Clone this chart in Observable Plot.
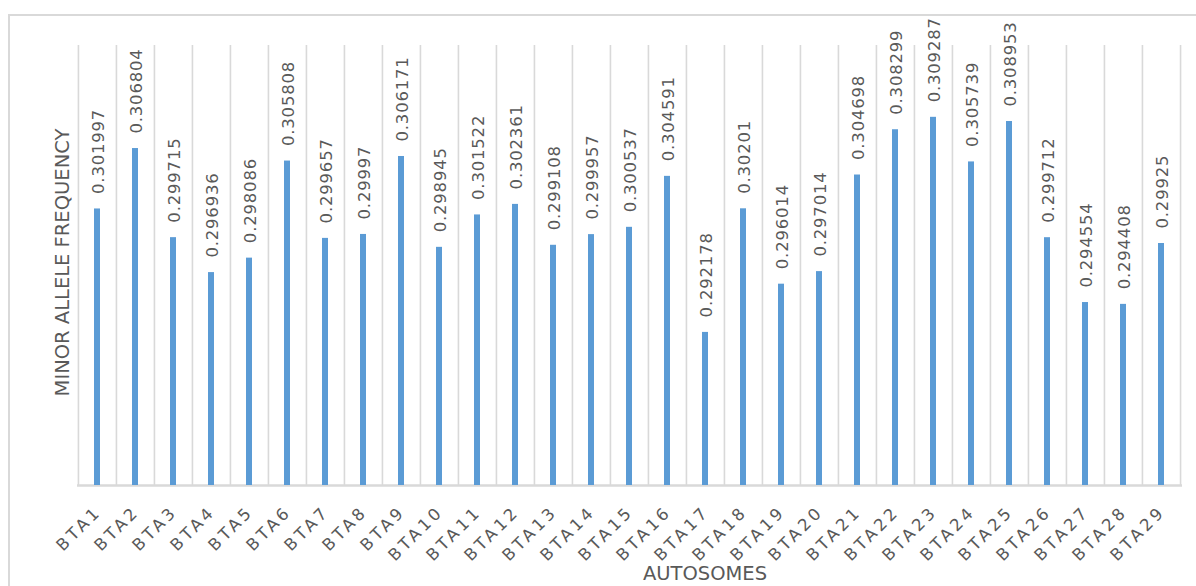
<!DOCTYPE html>
<html>
<head>
<meta charset="utf-8">
<script src="https://cdn.jsdelivr.net/npm/d3@7"></script>
<script src="https://cdn.jsdelivr.net/npm/@observablehq/plot@0.6"></script>
<style>
  html, body { margin: 0; padding: 0; background: #fff; }
  #wrap { position: relative; width: 1196px; height: 586px; overflow: hidden; }
  #frame { position: absolute; left: 8px; top: 14px; width: 1300px; height: 700px;
           border-left: 2px solid #d9d9d9; border-top: 2px solid #d9d9d9; }
  #chart { position: absolute; left: 0; top: 0; }
</style>
</head>
<body>
<div id="wrap"><div id="frame"></div><div id="chart"></div></div>
<script>
const categories = ["BTA1","BTA2","BTA3","BTA4","BTA5","BTA6","BTA7","BTA8","BTA9","BTA10",
  "BTA11","BTA12","BTA13","BTA14","BTA15","BTA16","BTA17","BTA18","BTA19","BTA20",
  "BTA21","BTA22","BTA23","BTA24","BTA25","BTA26","BTA27","BTA28","BTA29"];
const values = [0.301997,0.306804,0.299715,0.296936,0.298086,0.305808,0.299657,0.29997,0.306171,0.298945,
  0.301522,0.302361,0.299108,0.299957,0.300537,0.304591,0.292178,0.30201,0.296014,0.297014,
  0.304698,0.308299,0.309287,0.305739,0.308953,0.299712,0.294554,0.294408,0.29925];
const yDomain = [0.28, 0.315];
const xTitle = "AUTOSOMES";
const yTitle = "MINOR ALLELE FREQUENCY";

const data = categories.map((c, i) => ({cat: c, v: values[i]}));

const W = 1196, H = 586;
const mL = 77, mR = 14, mT = 45, mB = 101;
const step = (W - mL - mR) / categories.length;
const gray = "#595959";
const grid = "#d9d9d9";
const font = "DejaVu Sans";

const chart = Plot.plot({
  width: W, height: H,
  marginLeft: mL, marginRight: mR, marginTop: mT, marginBottom: mB,
  style: {fontFamily: font, background: "transparent", overflow: "visible"},
  x: {type: "band", domain: categories, paddingInner: 0.84, paddingOuter: 0.42, axis: null},
  y: {domain: yDomain, axis: null},
  marks: [
    Plot.ruleX(categories, {x: d => d, dx: -step / 2, stroke: grid, strokeWidth: 1.6}),
    Plot.ruleX([categories[categories.length - 1]], {x: d => d, dx: step / 2, stroke: grid, strokeWidth: 1.6}),
    Plot.ruleY([yDomain[0]], {stroke: grid, strokeWidth: 2.5}),
    Plot.barY(data, {x: "cat", y1: yDomain[0], y2: "v", fill: "#5b9bd5"}),
    Plot.text(data, {x: "cat", y: "v", text: d => String(d.v), rotate: -90, textAnchor: "start",
      dy: -15, dx: 1, fontSize: 16.5, fill: gray}),
    Plot.text(categories, {x: d => d, frameAnchor: "bottom", text: d => d, rotate: -45, textAnchor: "end",
      dx: 5, dy: 27, fontSize: 16.5, fill: gray}),
    Plot.text([xTitle], {frameAnchor: "bottom", text: d => d, dx: 75, dy: 94, fontSize: 19.5, fill: gray}),
    Plot.text([yTitle], {frameAnchor: "left", text: d => d, rotate: -90, textAnchor: "middle",
      dx: -15, dy: -3, fontSize: 19.5, fill: gray})
  ]
});
const valueStrings = new Set(values.map(String));
const catSet = new Set(categories);
d3.select(chart).selectAll("text").each(function() {
  const t = this.textContent;
  if (catSet.has(t)) this.style.letterSpacing = "3.5px";
  else if (valueStrings.has(t)) this.style.letterSpacing = "0.8px";
});
document.getElementById("chart").appendChild(chart);
</script>
</body>
</html>
